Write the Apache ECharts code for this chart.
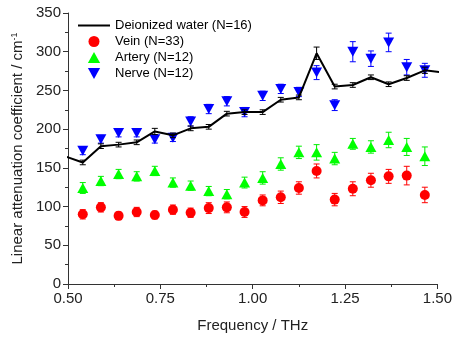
<!DOCTYPE html>
<html>
<head>
<meta charset="utf-8">
<script src="https://cdn.jsdelivr.net/npm/echarts@6/dist/echarts.min.js"></script>
<style>html,body{margin:0;padding:0;background:#fff}#c{width:455px;height:340px}</style>
</head>
<body>
<div id="c"></div>
<script>
// Frequencies (THz) of the measurement points
const freq = [0.491, 0.540, 0.589, 0.637, 0.686, 0.735, 0.784, 0.832, 0.881, 0.930, 0.978,
              1.027, 1.076, 1.125, 1.173, 1.222, 1.271, 1.320, 1.368, 1.417, 1.466, 1.515];
const water    = [165, 157, 178, 180, 183, 197, 192, 201, 203, 220, 222, 222, 238, 241, 298, 255, 257, 267, 258, 266, 276, 273];
const waterErr = [3, 3, 3, 3, 3, 4, 3, 3, 3, 3, 3, 3, 3, 3, 8, 3, 3, 3, 3, 3, 4, 3];
const vein     = [90, 90, 99, 88, 93, 89, 96, 92, 98, 99, 93, 108, 112, 124, 146, 109, 123, 134, 139, 140, 115, null];
const veinErr  = [6, 6, 6, 5, 6, 5, 6, 6, 7, 7, 7, 7, 8, 8, 9, 8, 9, 9, 9, 12, 10, null];
const artery   = [102, 124, 133, 142, 139, 146, 131, 127, 120, 116, 131, 137, 155, 170, 170, 162, 181, 177, 186, 177, 165, 161];
const arteryErr= [6, 7, 6, 6, 6, 6, 6, 6, 6, 6, 7, 8, 8, 8, 10, 8, 7, 8, 10, 11, 12, 8];
const nerve    = [163, 172, 187, 195, 195, 187, 189, 210, 226, 236, 222, 243, 252, 248, 273, 231, 300, 291, 312, 280, 276, 309];
const nerveErr = [5, 5, 5, 5, 5, 5, 5, 6, 6, 6, 6, 6, 6, 6, 9, 7, 13, 10, 12, 10, 9, 8];
const xTicks = {min: 0.5, max: 1.5, step: 0.25};
const yTicks = {min: 0, max: 350, step: 50};
const names = ['Deionized water (N=16)', 'Vein (N=33)', 'Artery (N=12)', 'Nerve (N=12)'];

const triUp = 'path://M5,0 L10,9 L0,9 Z';
const triDown = 'path://M0,0 L10,0 L5,9 Z';
const lineIcon = 'path://M0,0 L32,0 L32,2 L0,2 Z';

function pts(vals) {
  const out = [];
  vals.forEach((v, i) => { if (v !== null) out.push([freq[i], v]); });
  return out;
}
function errPts(vals, errs) {
  const out = [];
  vals.forEach((v, i) => { if (v !== null) out.push([freq[i], v, errs[i]]); });
  return out;
}
function errSeries(vals, errs, color, z) {
  return {
    type: 'custom', clip: true, z: z, silent: true,
    data: errPts(vals, errs),
    encode: {x: 0, y: 1},
    renderItem: function (params, api) {
      const x = api.value(0), y = api.value(1), e = api.value(2);
      const t = api.coord([x, y + e]), b = api.coord([x, y - e]);
      const w = 3;
      const st = {stroke: color, lineWidth: 1};
      return {type: 'group', children: [
        {type: 'line', shape: {x1: t[0], y1: t[1], x2: b[0], y2: b[1]}, style: st},
        {type: 'line', shape: {x1: t[0] - w, y1: t[1], x2: t[0] + w, y2: t[1]}, style: st},
        {type: 'line', shape: {x1: b[0] - w, y1: b[1], x2: b[0] + w, y2: b[1]}, style: st}
      ]};
    }
  };
}

const chart = echarts.init(document.getElementById('c'), null, {renderer: 'canvas'});
const font = 'Liberation Sans, Arial, Helvetica, sans-serif';
chart.setOption({
  animation: false,
  textStyle: {fontFamily: font},
  grid: {left: 68, right: 17, top: 13, bottom: 56, containLabel: false},
  legend: {
    orient: 'vertical', left: 73, top: 14, itemWidth: 32, itemHeight: 11, itemGap: 3,
    textStyle: {fontSize: 13, color: '#000', fontFamily: font},
    data: [
      {name: names[0], icon: lineIcon, itemStyle: {color: '#000'}},
      {name: names[1], icon: 'circle'},
      {name: names[2], icon: triUp},
      {name: names[3], icon: triDown}
    ]
  },
  xAxis: {
    type: 'value', min: xTicks.min, max: xTicks.max, interval: xTicks.step,
    name: 'Frequency / THz', nameLocation: 'middle', nameGap: 34,
    nameTextStyle: {fontSize: 15, color: '#222', fontFamily: font},
    axisLine: {onZero: false, lineStyle: {color: '#333', width: 1}},
    axisTick: {show: true, length: 5, lineStyle: {color: '#333'}},
    minorTick: {show: true, splitNumber: 2, length: 3, lineStyle: {color: '#333'}},
    axisLabel: {fontSize: 15, color: '#222', margin: 7, formatter: v => v.toFixed(2)},
    splitLine: {show: false}
  },
  yAxis: {
    type: 'value', min: yTicks.min, max: yTicks.max, interval: yTicks.step,
    name: 'Linear attenuation coefficient / cm{sup|-1}', nameLocation: 'middle', nameGap: 37, nameRotate: 90,
    nameTextStyle: {fontSize: 15, color: '#222', fontFamily: font,
      rich: {sup: {fontSize: 9, verticalAlign: 'top', color: '#222', fontFamily: font, padding: [0, 0, 6, 0]}}},
    axisLine: {show: true, lineStyle: {color: '#333', width: 1}},
    axisTick: {show: true, length: 5, lineStyle: {color: '#333'}},
    minorTick: {show: true, splitNumber: 2, length: 3, lineStyle: {color: '#333'}},
    axisLabel: {fontSize: 15, color: '#222', margin: 7},
    splitLine: {show: false}
  },
  series: [
    errSeries(vein, veinErr, '#ff0000', 2),
    errSeries(artery, arteryErr, '#00ee00', 2),
    errSeries(nerve, nerveErr, '#0000ff', 2),
    {name: names[1], type: 'scatter', data: pts(vein), symbol: 'circle', symbolSize: 10,
     itemStyle: {color: '#ff0000', opacity: 1}, z: 3},
    {name: names[2], type: 'scatter', data: pts(artery), symbol: triUp, symbolSize: [11, 10],
     itemStyle: {color: '#00ff00', opacity: 1}, z: 3},
    {name: names[3], type: 'scatter', data: pts(nerve), symbol: triDown, symbolSize: [11, 10],
     itemStyle: {color: '#0000ff', opacity: 1}, z: 3},
    {name: names[0], type: 'line', data: pts(water), symbol: 'none', showSymbol: false, clip: true,
     lineStyle: {color: '#000', width: 2}, itemStyle: {color: '#000'}, z: 4},
    errSeries(water, waterErr, '#000', 5)
  ]
});
</script>
</body>
</html>
